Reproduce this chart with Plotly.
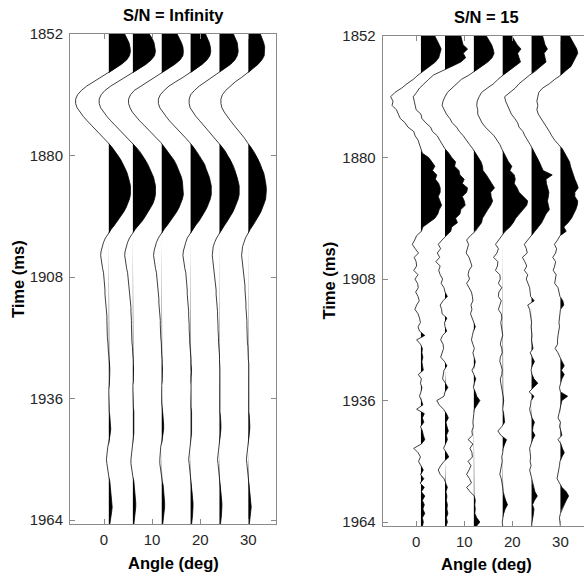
import plotly.graph_objects as go

# Time samples (ms), 1 ms interval
TIME_START = 1852
N_SAMPLES = 114
time_ms = [TIME_START + i for i in range(N_SAMPLES)]

# Trace positions (incidence angle, deg)
angles = [1, 6, 12, 18, 24, 30]

# Wiggle deflections in angle units, noise-free gather
clean_1 = [3.3, 3.8, 4.2, 4.4, 4.5, 4.3, 3.7, 2.6, 1.2, -0.2,
           -1.7, -3.2, -4.6, -5.7, -6.5, -6.9, -6.9, -6.6, -6.0, -5.3,
           -4.5, -3.6, -2.7, -1.8, -1.0, -0.2, 0.6, 1.3, 1.9, 2.5,
           3.0, 3.4, 3.8, 4.1, 4.3, 4.5, 4.5, 4.5, 4.3, 4.0,
           3.6, 3.1, 2.5, 1.9, 1.2, 0.5, -0.1, -0.7, -1.1, -1.4,
           -1.6, -1.7, -1.6, -1.5, -1.3, -1.1, -1.0, -0.9, -0.9, -0.8,
           -0.8, -0.7, -0.6, -0.5, -0.5, -0.4, -0.4, -0.4, -0.3, -0.3,
           -0.3, -0.2, -0.2, -0.1, 0.0, 0.1, 0.2, 0.2, 0.2, 0.2,
           0.1, 0.1, 0.0, 0.0, 0.0, 0.0, 0.1, 0.1, 0.2, 0.3,
           0.4, 0.4, 0.3, 0.2, 0.0, -0.2, -0.3, -0.4, -0.5, -0.4,
           -0.3, -0.2, 0.0, 0.2, 0.3, 0.4, 0.5, 0.6, 0.7, 0.7,
           0.6, 0.5, 0.3, 0.2]
clean_6 = [3.4, 4.0, 4.4, 4.6, 4.7, 4.5, 3.8, 2.7, 1.2, -0.2,
           -1.7, -3.2, -4.6, -5.8, -6.6, -7.0, -7.0, -6.7, -6.1, -5.4,
           -4.6, -3.7, -2.8, -1.9, -1.0, -0.2, 0.6, 1.4, 2.0, 2.6,
           3.1, 3.5, 3.9, 4.3, 4.5, 4.7, 4.7, 4.7, 4.5, 4.2,
           3.7, 3.2, 2.6, 2.0, 1.2, 0.5, -0.1, -0.7, -1.1, -1.4,
           -1.6, -1.7, -1.6, -1.5, -1.3, -1.1, -1.0, -0.9, -0.8, -0.7,
           -0.6, -0.6, -0.5, -0.4, -0.4, -0.3, -0.3, -0.3, -0.3, -0.2,
           -0.2, -0.2, -0.1, -0.1, 0.0, 0.1, 0.1, 0.2, 0.2, 0.1,
           0.1, 0.0, 0.0, 0.0, 0.0, 0.1, 0.1, 0.2, 0.2, 0.3,
           0.3, 0.3, 0.2, 0.1, 0.0, -0.2, -0.3, -0.4, -0.4, -0.4,
           -0.3, -0.1, 0.0, 0.2, 0.3, 0.4, 0.5, 0.6, 0.6, 0.6,
           0.5, 0.4, 0.3, 0.2]
clean_12 = [3.2, 3.7, 4.1, 4.4, 4.5, 4.4, 3.8, 2.7, 1.3, -0.1,
            -1.6, -3.1, -4.5, -5.7, -6.5, -6.9, -6.9, -6.6, -6.1, -5.4,
            -4.6, -3.7, -2.8, -1.9, -1.0, -0.2, 0.5, 1.2, 1.9, 2.5,
            3.0, 3.4, 3.8, 4.1, 4.3, 4.4, 4.5, 4.5, 4.3, 4.0,
            3.6, 3.1, 2.5, 1.9, 1.2, 0.5, -0.1, -0.7, -1.1, -1.4,
            -1.6, -1.7, -1.6, -1.5, -1.3, -1.1, -1.0, -0.9, -0.8, -0.8,
            -0.7, -0.6, -0.6, -0.5, -0.4, -0.4, -0.3, -0.3, -0.3, -0.2,
            -0.2, -0.1, -0.1, 0.0, 0.0, 0.1, 0.1, 0.2, 0.2, 0.2,
            0.1, 0.0, 0.0, -0.1, -0.1, 0.0, 0.1, 0.2, 0.3, 0.3,
            0.4, 0.4, 0.3, 0.1, 0.0, -0.2, -0.3, -0.4, -0.4, -0.4,
            -0.3, -0.1, 0.0, 0.1, 0.3, 0.4, 0.5, 0.5, 0.6, 0.6,
            0.5, 0.4, 0.3, 0.2]
clean_18 = [3.1, 3.5, 3.9, 4.1, 4.2, 4.0, 3.4, 2.4, 1.1, -0.2,
            -1.6, -3.1, -4.5, -5.5, -6.3, -6.7, -6.7, -6.4, -5.8, -5.1,
            -4.4, -3.5, -2.6, -1.7, -1.0, -0.2, 0.6, 1.2, 1.8, 2.4,
            2.9, 3.2, 3.6, 3.9, 4.1, 4.3, 4.3, 4.3, 4.1, 3.8,
            3.4, 2.9, 2.4, 1.8, 1.1, 0.5, -0.1, -0.7, -1.0, -1.3,
            -1.5, -1.6, -1.5, -1.4, -1.2, -1.0, -0.9, -0.8, -0.8, -0.7,
            -0.7, -0.6, -0.5, -0.5, -0.4, -0.4, -0.3, -0.3, -0.3, -0.2,
            -0.2, -0.2, -0.1, -0.1, 0.0, 0.1, 0.1, 0.2, 0.2, 0.1,
            0.1, 0.0, 0.0, 0.0, 0.0, 0.0, 0.1, 0.2, 0.2, 0.3,
            0.3, 0.3, 0.2, 0.1, 0.0, -0.2, -0.3, -0.3, -0.4, -0.3,
            -0.2, -0.1, 0.0, 0.1, 0.2, 0.3, 0.4, 0.5, 0.5, 0.5,
            0.5, 0.4, 0.3, 0.2]
clean_24 = [2.9, 3.3, 3.7, 3.8, 3.9, 3.7, 3.2, 2.3, 1.0, -0.2,
            -1.6, -2.9, -4.2, -5.2, -6.0, -6.3, -6.3, -6.1, -5.5, -4.9,
            -4.1, -3.3, -2.5, -1.7, -0.9, -0.2, 0.5, 1.2, 1.7, 2.3,
            2.7, 3.1, 3.4, 3.7, 3.9, 4.1, 4.1, 4.1, 3.9, 3.6,
            3.2, 2.8, 2.3, 1.7, 1.1, 0.5, -0.1, -0.6, -1.0, -1.3,
            -1.4, -1.5, -1.4, -1.3, -1.2, -1.0, -0.9, -0.8, -0.8, -0.7,
            -0.7, -0.6, -0.5, -0.5, -0.4, -0.4, -0.3, -0.3, -0.3, -0.2,
            -0.2, -0.2, -0.1, -0.1, 0.0, 0.0, 0.1, 0.1, 0.1, 0.1,
            0.1, 0.0, 0.0, 0.0, 0.0, 0.0, 0.1, 0.1, 0.2, 0.3,
            0.3, 0.3, 0.2, 0.1, 0.0, -0.1, -0.2, -0.3, -0.4, -0.3,
            -0.2, -0.1, 0.0, 0.1, 0.2, 0.3, 0.4, 0.5, 0.5, 0.5,
            0.5, 0.4, 0.3, 0.2]
clean_30 = [2.5, 2.9, 3.2, 3.4, 3.4, 3.3, 2.8, 2.0, 0.9, -0.2,
            -1.4, -2.7, -3.8, -4.7, -5.4, -5.7, -5.7, -5.5, -5.0, -4.4,
            -3.7, -3.0, -2.2, -1.5, -0.8, -0.2, 0.5, 1.1, 1.6, 2.1,
            2.5, 2.8, 3.2, 3.4, 3.6, 3.7, 3.75, 3.7, 3.6, 3.3,
            3.0, 2.6, 2.1, 1.6, 1.0, 0.4, -0.1, -0.6, -0.9, -1.2,
            -1.3, -1.4, -1.3, -1.2, -1.1, -0.9, -0.8, -0.8, -0.7, -0.7,
            -0.6, -0.6, -0.5, -0.5, -0.4, -0.4, -0.3, -0.3, -0.3, -0.2,
            -0.2, -0.2, -0.1, -0.1, 0.0, 0.0, 0.1, 0.1, 0.1, 0.1,
            0.1, 0.0, 0.0, 0.0, 0.0, 0.0, 0.1, 0.1, 0.2, 0.3,
            0.3, 0.3, 0.2, 0.1, 0.0, -0.1, -0.2, -0.3, -0.4, -0.3,
            -0.2, -0.1, 0.0, 0.1, 0.2, 0.3, 0.4, 0.5, 0.6, 0.6,
            0.5, 0.4, 0.3, 0.2]

# Same gather with signal-to-noise ratio 15
noisy_1 = [2.9, 3.4, 3.8, 4.2, 4.0, 3.7, 3.0, 1.9, 0.6, -0.6,
           -1.6, -2.9, -4.0, -5.4, -6.3, -5.8, -6.0, -5.1, -4.7, -4.3,
           -3.3, -2.7, -1.5, -1.2, -0.6, -0.3, -0.1, 0.3, 1.6, 2.3,
           2.9, 2.4, 3.3, 3.0, 3.7, 4.0, 4.0, 3.6, 4.0, 4.3,
           3.8, 3.5, 2.9, 1.6, 0.4, 0.1, -0.9, -1.3, -1.8, -1.2,
           -0.5, -1.4, -1.0, -0.9, -1.5, -0.6, -1.25, -0.7, -0.55, -1.1,
           -0.6, -0.35, -0.9, -1.25, -0.6, -0.3, -0.1, -0.6, -0.3, 0.8,
           -0.9, -0.1, 0.3, 0.2, 0.4, 0.2, 0.3, 0.5, -0.55, 0.1,
           -0.1, 0.2, 0.0, -0.3, 0.1, 0.4, -0.9, 0.7, 0.3, 0.6,
           -0.1, 0.3, 0.5, 0.8, 0.1, -1.5, -0.6, -0.1, -0.5, 0.0,
           0.5, -0.1, 0.6, -0.2, 0.7, 0.1, 0.8, 0.3, 0.7, 0.4,
           0.8, 0.3, 0.5, 0.3]
noisy_6 = [3.3, 3.6, 3.75, 4.7, 3.8, 4.3, 3.3, 1.4, -0.6, -2.4,
           -3.4, -4.3, -5.3, -5.9, -6.6, -6.4, -6.2, -6.0, -5.0, -4.8,
           -4.0, -3.0, -2.6, -1.6, -1.1, -0.6, 0.0, 0.8, 1.4, 2.2,
           2.0, 2.9, 3.1, 4.0, 3.6, 4.7, 4.5, 3.6, 4.0, 4.2,
           3.3, 3.1, 2.2, 2.6, 1.4, 1.2, 0.2, -0.6, -1.4, -0.9,
           -1.6, -1.1, -1.9, -1.0, -1.3, -1.0, -0.5, -0.8, -0.2, 0.0,
           0.5, -0.4, -1.0, -0.7, -0.6, 0.4, -0.1, 0.0, 0.35, -0.5,
           -0.9, -0.4, -0.3, -0.6, -0.9, -0.1, 0.4, -0.2, -0.3, -0.5,
           0.1, 0.6, 0.0, -0.2, -1.7, -1.2, -0.3, 0.3, 0.7, 0.2,
           0.4, 0.7, 0.3, 0.5, 0.1, -0.3, 0.3, 0.8, -0.2, -0.9,
           -1.4, -1.0, -0.2, 0.1, 0.5, 0.2, 0.4, 0.3, 0.5, 0.4,
           0.6, 0.3, 0.5, 0.2]
noisy_12 = [2.6, 3.2, 3.7, 4.0, 4.2, 3.8, 2.9, 1.6, 0.4, -1.0,
            -2.6, -3.5, -4.6, -5.5, -6.0, -6.4, -6.6, -6.2, -5.7, -5.0,
            -4.5, -3.6, -3.0, -2.2, -1.6, -0.9, -0.2, 0.4, 0.9, 1.5,
            1.8, 1.9, 2.6, 3.2, 3.8, 4.3, 3.5, 3.6, 3.9, 3.5,
            2.9, 2.3, 1.8, 1.6, 0.9, 0.3, -0.7, -1.5, -1.1, -1.3,
            -1.6, -1.0, -0.7, -0.4, -1.0, -1.2, -0.9, -1.5, -1.0, -0.5,
            -0.3, -0.2, -0.6, -0.4, -0.7, -0.3, 0.0, 0.3, -0.1, -0.3,
            -0.5, -0.2, 0.1, -0.2, 0.0, 0.3, 0.1, -0.4, 0.0, 0.4,
            0.1, -0.1, 0.3, 0.6, 1.25, 0.6, 0.1, 0.0, -0.1, -0.2,
            -0.1, -0.4, -0.3, -1.2, -0.2, -0.8, -0.4, -0.3, -1.2, -0.6,
            -1.0, -1.5, -0.9, -0.5, -1.5, -0.8, 0.1, 0.3, 0.2, 0.3,
            0.2, 0.6, 1.25, 0.5]
noisy_18 = [1.9, 2.4, 3.0, 3.8, 3.1, 3.4, 3.7, 2.5, 1.2, 0.1,
            -1.0, -1.9, -3.2, -4.4, -4.9, -5.3, -5.4, -5.2, -5.2, -4.8,
            -4.3, -3.6, -2.6, -1.8, -1.2, -0.6, -0.2, 0.3, 0.8, 1.2,
            1.9, 1.5, 2.4, 2.6, 2.4, 3.0, 3.4, 4.3, 5.2, 5.0,
            4.2, 3.4, 2.7, 2.2, 1.5, 0.5, -0.2, -0.9, -1.5, -0.9,
            -1.2, -1.9, -1.0, -1.1, -1.5, -0.6, -0.5, -0.9, -0.2, -0.8,
            -0.9, -0.3, -0.6, -0.9, -0.3, -0.2, -0.4, -0.3, -0.1, 0.0,
            -0.3, -0.5, -0.2, -0.1, -0.5, -0.6, -0.3, -0.1, -0.2, -0.5,
            -0.4, -0.2, -0.1, 0.1, 0.2, 0.1, 0.0, 0.2, 0.3, 0.4,
            -0.2, -1.0, -0.4, 0.8, 0.4, 0.1, 0.0, -0.2, -0.1, -0.3,
            -0.4, -0.6, -0.3, -0.1, 0.0, 0.1, 0.3, 0.6, 1.0, 0.5,
            0.2, 0.0, -0.1, 0.0]
noisy_24 = [2.3, 2.5, 2.8, 3.3, 2.6, 2.8, 3.0, 1.9, 0.9, -0.4,
            -1.5, -2.6, -3.4, -4.6, -5.6, -5.4, -5.0, -4.7, -4.2, -3.5,
            -2.9, -2.6, -1.8, -1.4, -0.8, -0.3, 0.2, 0.7, 1.2, 1.6,
            2.0, 2.4, 4.3, 3.0, 3.1, 3.3, 3.6, 3.5, 3.3, 3.5,
            3.7, 3.0, 2.6, 2.1, 1.4, 0.6, 0.0, -0.8, -1.5, -1.1,
            -0.9, -1.9, -1.4, -1.0, -1.5, -0.8, -1.1, -0.7, -0.4, -0.3,
            -0.2, 0.55, -0.8, -0.4, -0.3, -0.1, 0.0, -0.1, 0.0, 0.1,
            0.0, 0.1, 0.3, -0.3, 0.1, 0.6, 0.1, -0.1, 0.1, 0.5,
            1.3, 0.4, -0.5, 0.5, -0.1, -0.2, -0.4, -0.2, 0.1, 0.6,
            0.3, 0.2, 0.7, 0.2, -0.1, -0.4, -0.3, -0.2, -0.3, -0.1,
            -0.4, -0.2, 0.0, 0.2, 0.4, 0.7, 1.2, 0.6, 0.2, 0.5,
            0.4, 0.2, 0.1, 0.0]
noisy_30 = [1.9, 2.4, 2.9, 3.4, 3.6, 3.1, 2.6, 2.2, 1.1, 0.1,
            -1.2, -2.3, -3.7, -4.5, -4.7, -4.9, -4.7, -4.9, -4.6, -4.0,
            -3.5, -2.9, -2.3, -1.8, -1.2, -0.4, 0.4, 0.9, 1.4, 1.9,
            2.1, 2.4, 2.6, 3.0, 3.4, 3.7, 3.0, 3.0, 3.6, 3.5,
            3.2, 2.7, 2.3, 1.6, 0.7, 1.2, -0.1, -0.6, -1.25, -0.8,
            -1.0, -1.6, -1.0, -1.2, -1.5, -0.9, -1.0, -1.2, -0.5, -0.3,
            -0.1, 0.5, 0.7, 0.0, -0.1, -0.2, -0.3, -0.2, -0.4, -0.5,
            -0.6, -0.6, -1.1, -0.5, -0.1, 0.3, 0.8, 0.2, 0.8, 0.3,
            0.0, -0.2, 0.0, 1.5, 0.3, 0.1, 0.0, -0.3, -0.5, 0.0,
            -0.2, 0.1, 0.3, -0.5, 0.1, 0.4, 0.8, 0.3, -0.1, -0.2,
            -0.4, -0.5, -0.7, -0.2, 0.3, 1.2, 1.7, 1.2, 0.8, 0.3,
            0.0, -0.2, -0.1, 0.0]

clean_gather = [clean_1, clean_6, clean_12, clean_18, clean_24, clean_30]
noisy_gather = [noisy_1, noisy_6, noisy_12, noisy_18, noisy_24, noisy_30]

time_ticks = [1852, 1880, 1908, 1936, 1964]
angle_ticks = [0, 10, 20, 30]
titles = ["S/N = Infinity", "S/N = 15"]

WIGGLE_GAIN = 1.0
FONT = "Liberation Sans, Arial, Helvetica, sans-serif"
AXIS_GRAY = "#8a8a8a"
TEXT = "#262626"


def positive_area(offset, amp, t):
    """Polygon of the positive lobes (variable-area fill), with zero crossings."""
    xs, ys = [], []
    for i in range(len(amp)):
        a = amp[i] * WIGGLE_GAIN
        if i > 0:
            a0 = amp[i - 1] * WIGGLE_GAIN
            if (a0 > 0) != (a > 0) and a0 != a:
                f = a0 / (a0 - a)
                xs.append(offset)
                ys.append(t[i - 1] + f * (t[i] - t[i - 1]))
        xs.append(offset + max(a, 0.0))
        ys.append(t[i])
    xs += [offset, offset]
    ys += [t[-1], t[0]]
    return xs, ys


fig = go.Figure()

for gather, xa, ya in [(clean_gather, "x", "y"), (noisy_gather, "x2", "y2")]:
    for ang, amp in zip(angles, gather):
        n = min(len(amp), len(time_ms))
        amp_n = amp[:n]
        t_n = time_ms[:n]
        px, py = positive_area(ang, amp_n, t_n)
        fig.add_trace(go.Scatter(
            x=px, y=py, xaxis=xa, yaxis=ya, mode="lines",
            fill="toself", fillcolor="black",
            line=dict(width=0, color="black"),
            hoverinfo="skip", showlegend=False))
        fig.add_trace(go.Scatter(
            x=[ang + v * WIGGLE_GAIN for v in amp_n], y=t_n,
            xaxis=xa, yaxis=ya, mode="lines",
            line=dict(width=0.75, color="black"),
            showlegend=False))

W, H = 584, 578


def px_x(v):
    return v / W


def px_y(v):
    return (H - v) / H


common_x = dict(
    range=[-7.07, 35.75], tickvals=angle_ticks, ticks="inside", ticklen=5,
    tickcolor=AXIS_GRAY, showline=True, linecolor=AXIS_GRAY, linewidth=1,
    showgrid=False, zeroline=False, ticklabelstandoff=2,
    tickfont=dict(family=FONT, size=15, color=TEXT),
)
common_y = dict(
    range=[1964.9, 1852], tickvals=time_ticks, ticks="inside", ticklen=5,
    tickcolor=AXIS_GRAY, showline=True, linecolor=AXIS_GRAY, linewidth=1,
    showgrid=False, zeroline=False, ticklabelstandoff=3,
    tickfont=dict(family=FONT, size=15, color=TEXT),
)

fig.update_layout(
    width=W, height=H,
    margin=dict(l=0, r=0, t=0, b=0, autoexpand=False),
    paper_bgcolor="white", plot_bgcolor="white",
    showlegend=False,
    xaxis=dict(common_x, domain=[px_x(70), px_x(276)], anchor="y", mirror="ticks"),
    yaxis=dict(common_y, domain=[px_y(524), px_y(34)], anchor="x", mirror="ticks"),
    xaxis2=dict(common_x, domain=[px_x(382.7), 1.0], anchor="y2", mirror="ticks",
                range=[-6.95, -6.95 + (584 - 382.7) / 4.81]),
    yaxis2=dict(common_y, domain=[px_y(526), px_y(36)], anchor="x2", mirror=False),
)

label_font = dict(family=FONT, size=16.5, color="black")
annotations = [
    dict(text="<b>%s</b>" % titles[0], x=px_x(173), y=px_y(15)),
    dict(text="<b>%s</b>" % titles[1], x=px_x(486.5), y=px_y(16.5)),
    dict(text="<b>Angle (deg)</b>", x=px_x(173.5), y=px_y(563)),
    dict(text="<b>Angle (deg)</b>", x=px_x(486), y=px_y(564)),
    dict(text="<b>Time (ms)</b>", x=px_x(18), y=px_y(279), textangle=-90),
    dict(text="<b>Time (ms)</b>", x=px_x(328.5), y=px_y(281), textangle=-90),
]
for a in annotations:
    fig.add_annotation(xref="paper", yref="paper", showarrow=False,
                       xanchor="center", yanchor="middle", font=label_font, **a)

fig.write_html(
    "out.html",
    post_script="document.body.style.margin='0';document.body.style.padding='0';",
)
